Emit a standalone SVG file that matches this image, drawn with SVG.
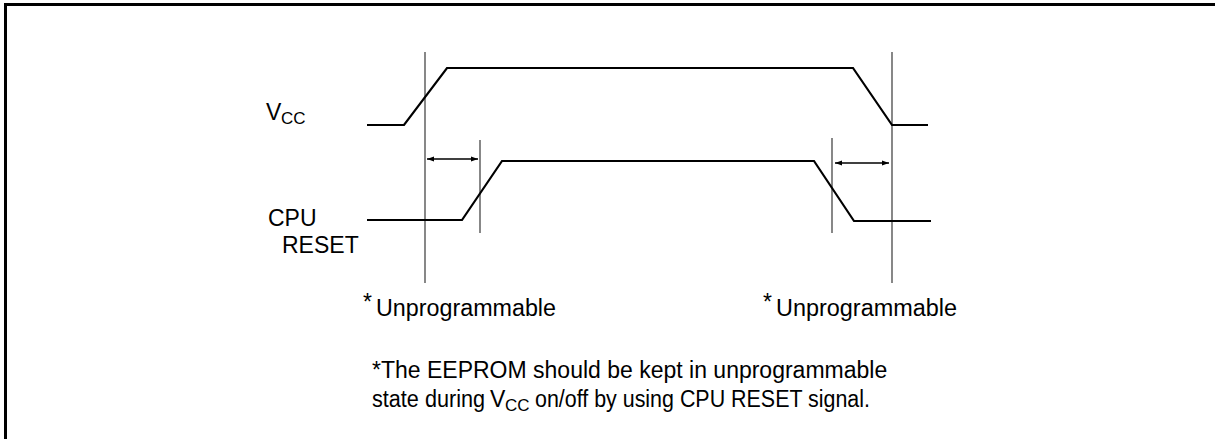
<svg xmlns="http://www.w3.org/2000/svg" width="1215" height="439" viewBox="0 0 1215 439">
<style>
.sig{fill:none;stroke:#000;stroke-width:2.2;stroke-linejoin:miter}
.ref{fill:none;stroke:#555;stroke-width:1.4}
.dim{fill:none;stroke:#000;stroke-width:1.4}
text{font-family:"Liberation Sans",Arial,sans-serif;fill:#000}
.lbl{font-size:23px}
.sub{font-size:17px}
.note{font-size:23px}
</style>
<defs>
<marker id="ah" viewBox="0 0 10 10" refX="10" refY="5" markerWidth="10" markerHeight="7" markerUnits="userSpaceOnUse" orient="auto-start-reverse">
<path d="M0,1.5 L10,5 L0,8.5 Z" fill="#000"/>
</marker>
</defs>
<rect x="5.5" y="4.5" width="1220" height="450" fill="none" stroke="#000" stroke-width="3"/>
<g id="connectors">
<line class="ref" x1="425" y1="52" x2="425" y2="283"/>
<line class="ref" x1="892" y1="52" x2="892" y2="283"/>
<line class="ref" x1="480" y1="140" x2="480" y2="233"/>
<line class="ref" x1="832" y1="138" x2="832" y2="233"/>
<line class="dim" x1="427" y1="159" x2="478" y2="159" marker-start="url(#ah)" marker-end="url(#ah)"/>
<line class="dim" x1="835" y1="163" x2="889" y2="163" marker-start="url(#ah)" marker-end="url(#ah)"/>
</g>
<g id="vcc">
<polyline class="sig" points="367,125 404,125 447,68 853,68 892,125 928,125"/>
<text class="lbl" x="266" y="120">V</text>
<text class="sub" x="281" y="124">CC</text>
</g>
<g id="cpureset">
<polyline class="sig" points="367,220 462,220 502,161 814,161 854,221 931,221"/>
<text class="lbl" x="268" y="226">CPU</text>
<text class="lbl" x="282" y="253">RESET</text>
</g>
<g id="unprog-left">
<text class="lbl" x="363" y="310">*</text>
<text class="lbl" x="376" y="316" textLength="180" lengthAdjust="spacingAndGlyphs">Unprogrammable</text>
</g>
<g id="unprog-right">
<text class="lbl" x="763" y="310">*</text>
<text class="lbl" x="776" y="316" textLength="181" lengthAdjust="spacingAndGlyphs">Unprogrammable</text>
</g>
<g id="footnote">
<text class="note" x="372" y="378">*The EEPROM should be kept in unprogrammable</text>
<text class="note" x="372" y="407" textLength="113" lengthAdjust="spacingAndGlyphs">state during</text>
<text class="note" x="490" y="407">V</text>
<text class="sub" x="505" y="411">CC</text>
<text class="note" x="535" y="407" textLength="335" lengthAdjust="spacingAndGlyphs">on/off by using CPU RESET signal.</text>
</g>
</svg>
